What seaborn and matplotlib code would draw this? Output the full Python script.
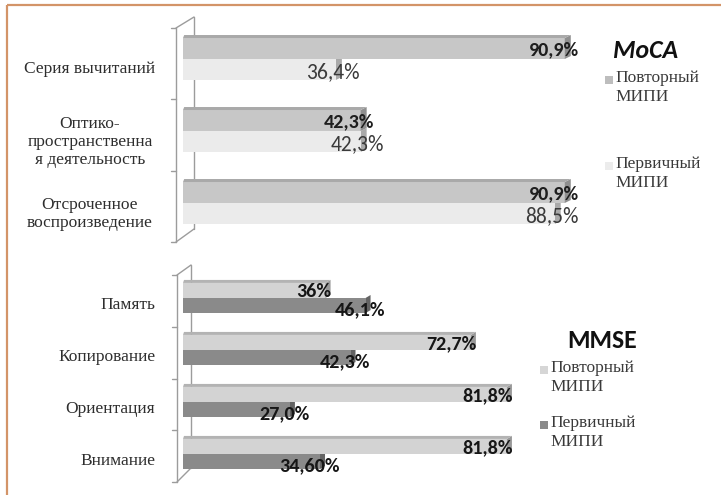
import matplotlib
matplotlib.use("Agg")
import matplotlib.pyplot as plt
import seaborn as sns
import pandas as pd
from matplotlib.patches import Polygon, Rectangle
from matplotlib.transforms import ScaledTranslation, IdentityTransform

# ---- data -----------------------------------------------------------------
series = ["Повторный МИПИ", "Первичный МИПИ"]

moca_categories = ["Серия вычитаний",
                   "Оптико-\nпространственна\nя деятельность",
                   "Отсроченное\nвоспроизведение"]
moca_repeat = [90.9, 42.3, 90.9]
moca_primary = [36.4, 42.3, 88.5]
moca_repeat_labels = ["90,9%", "42,3%", "90,9%"]
moca_primary_labels = ["36,4%", "42,3%", "88,5%"]

mmse_categories = ["Память", "Копирование", "Ориентация", "Внимание"]
mmse_repeat = [36.0, 72.7, 81.8, 81.8]
mmse_primary = [46.1, 42.3, 27.0, 34.6]
mmse_repeat_labels = ["36%", "72,7%", "81,8%", "81,8%"]
mmse_primary_labels = ["46,1%", "42,3%", "27,0%", "34,60%"]

# ---- style ----------------------------------------------------------------
sns.set_theme(style="white")
SANS = ["Carlito", "Open Sans", "DejaVu Sans"]
SERIF = ["Liberation Serif", "DejaVu Serif"]
SERIF_SIZE = 12.5
plt.rcParams["font.family"] = SERIF

W, H = 721, 495
fig = plt.figure(figsize=(W / 100, H / 100), dpi=100)
fig.patch.set_facecolor("white")


def px_axes(x0, y0, x1, y1, **kw):
    return fig.add_axes([x0 / W, 1 - y1 / H, (x1 - x0) / W, (y1 - y0) / H], **kw)


def shade(c, f):
    r, g, b = matplotlib.colors.to_rgb(c)
    return (r * f, g * f, b * f)


def bar_panel(ax, cats, rep, prim, colors, width, label_specs, label_shift_px,
              label_pad_pt):
    df = pd.DataFrame({
        "category": cats * 2,
        "series": [series[0]] * len(cats) + [series[1]] * len(cats),
        "value": rep + prim,
    })
    sns.barplot(data=df, y="category", x="value", hue="series",
                hue_order=series, order=cats, palette=colors, orient="h",
                width=width, saturation=1, linewidth=0, legend=False, ax=ax)
    ax.set_xlim(0, 100)
    ax.set_ylim(len(cats) - 0.5, -0.5)
    ax.set_xlabel("")
    ax.set_ylabel("")
    ax.set_xticks([])
    for s in ax.spines.values():
        s.set_visible(False)
    ax.tick_params(axis="y", length=0, pad=label_pad_pt)
    ax.patch.set_alpha(0)

    # data labels at the bar ends
    for cont, (labels, weight, size, color, dx, dy) in zip(ax.containers, label_specs):
        anns = ax.bar_label(cont, labels=labels, label_type="edge", padding=0,
                            fontsize=size, fontweight=weight, color=color,
                            family=SANS, zorder=5)
        for a in anns:
            a.set_ha("right")
            a.xyann = (dx, -dy)
            a.set_annotation_clip(False)

    # shift category labels down slightly
    off = ScaledTranslation(0, -label_shift_px / 100, fig.dpi_scale_trans)
    for lab in ax.get_yticklabels():
        lab.set_transform(lab.get_transform() + off)
    return ax


def add_depth(ax, colors, dx=6, dy=3):
    """Top and side faces that give the bars a shallow 3-D look."""
    fig.canvas.draw()
    for k, cont in enumerate(ax.containers):
        base = colors[k]
        for p in cont.patches:
            bb = p.get_window_extent()
            x0, x1, y0, y1 = bb.x0, bb.x1, bb.y0, bb.y1
            z = 0.5 if k == 1 else 1.5
            side = Polygon([(x1, y0), (x1, y1), (x1 + dx, y1 + dy), (x1 + dx, y0 + dy)],
                           closed=True, facecolor=shade(base, 0.72), edgecolor="none",
                           transform=IdentityTransform(), zorder=z, clip_on=False)
            ax.add_patch(side)
            if k == 0:
                top = Polygon([(x0, y1), (x1, y1), (x1 + dx, y1 + dy), (x0 + dx * 0.2, y1 + dy)],
                              closed=True, facecolor=shade(base, 0.85), edgecolor="none",
                              transform=IdentityTransform(), zorder=z, clip_on=False)
                ax.add_patch(top)


# ---- overlay for frame, walls and legends (pixel coordinates) -------------
over = fig.add_axes([0, 0, 1, 1], zorder=-1)
over.set_xlim(0, W)
over.set_ylim(H, 0)
over.axis("off")

# ---- MoCA panel -----------------------------------------------------------
moca_colors = ["#c7c7c7", "#ebebeb"]
ax_top = px_axes(183, 23, 603, 239)
bar_panel(ax_top, moca_categories, moca_repeat, moca_primary, moca_colors, 0.583,
          [(moca_repeat_labels, "bold", 14.5, "#1e1e1e", 10, 1),
           (moca_primary_labels, "normal", 15.5, "#3a3a3a", 17, 2)],
          label_shift_px=8, label_pad_pt=67)
for lab in ax_top.get_yticklabels():
    lab.set_ha("center")
    lab.set_multialignment("center")
    lab.set_fontsize(SERIF_SIZE)
    lab.set_color("#2e2e2e")
    lab.set_family(SERIF)
    lab.set_linespacing(1.15)

# ---- MMSE panel -----------------------------------------------------------
mmse_colors = ["#d3d3d3", "#8a8a8a"]
ax_bot = px_axes(183, 272, 579, 480)
bar_panel(ax_bot, mmse_categories, mmse_repeat, mmse_primary, mmse_colors, 0.58,
          [(mmse_repeat_labels, "bold", 14.5, "#161616", 4, 1),
           (mmse_primary_labels, "bold", 14.5, "#161616", 14, 3)],
          label_shift_px=5, label_pad_pt=20)
for lab in ax_bot.get_yticklabels():
    lab.set_fontsize(SERIF_SIZE)
    lab.set_color("#2e2e2e")
    lab.set_family(SERIF)

add_depth(ax_top, moca_colors)
add_depth(ax_bot, mmse_colors, dx=5, dy=3)

# ---- frame ---------------------------------------------------------------
over.plot([7, W], [5, 5], color="#d39468", lw=1.6, solid_capstyle="butt")
over.plot([7, 7], [5, H], color="#d39468", lw=1.6, solid_capstyle="butt")


# ---- side walls -------------------------------------------------------------
def wall(x_front, top, bottom, n, back_dx, back_dy, back_bottom_dy):
    c = "#9c9c9c"
    xb = x_front + back_dx
    over.plot([x_front, x_front], [top, bottom], color=c, lw=1)
    over.plot([xb, xb], [top - back_dy, bottom - back_bottom_dy], color=c, lw=1)
    over.plot([x_front, xb], [top, top - back_dy], color=c, lw=1)
    over.plot([x_front, xb], [bottom, bottom - back_bottom_dy], color=c, lw=1)
    step = (bottom - top) / n
    for i in range(n + 1):
        y = top + i * step
        over.plot([x_front - 5, x_front], [y, y], color=c, lw=1)


wall(176, 28, 242, 3, 18, 11, 13)
wall(177, 275, 482, 4, 14, 10, 14)

# ---- legends --------------------------------------------------------------
def legend_block(x_sq, title, title_xy, title_style, entries):
    over.text(title_xy[0], title_xy[1], title, ha="center", va="center",
              fontsize=18.5, fontweight="bold", fontstyle=title_style,
              family=SANS, color="#111111")
    for (y, label, color) in entries:
        over.add_patch(Rectangle((x_sq, y - 4), 8, 8, facecolor=color,
                                 edgecolor="none"))
        over.text(x_sq + 10, y - 10, label, ha="left", va="top",
                  fontsize=SERIF_SIZE, family=SERIF, color="#3a3a3a",
                  linespacing=1.25)


legend_block(605, "MoCA", (646, 50), "italic",
             [(80, "Повторный\nМИПИ", "#bdbdbd"),
              (166, "Первичный\nМИПИ", "#ececec")])
legend_block(540, "MMSE", (602, 340), "normal",
             [(370, "Повторный\nМИПИ", "#d6d6d6"),
              (425, "Первичный\nМИПИ", "#8a8a8a")])

fig.savefig("out.png", dpi=100)
